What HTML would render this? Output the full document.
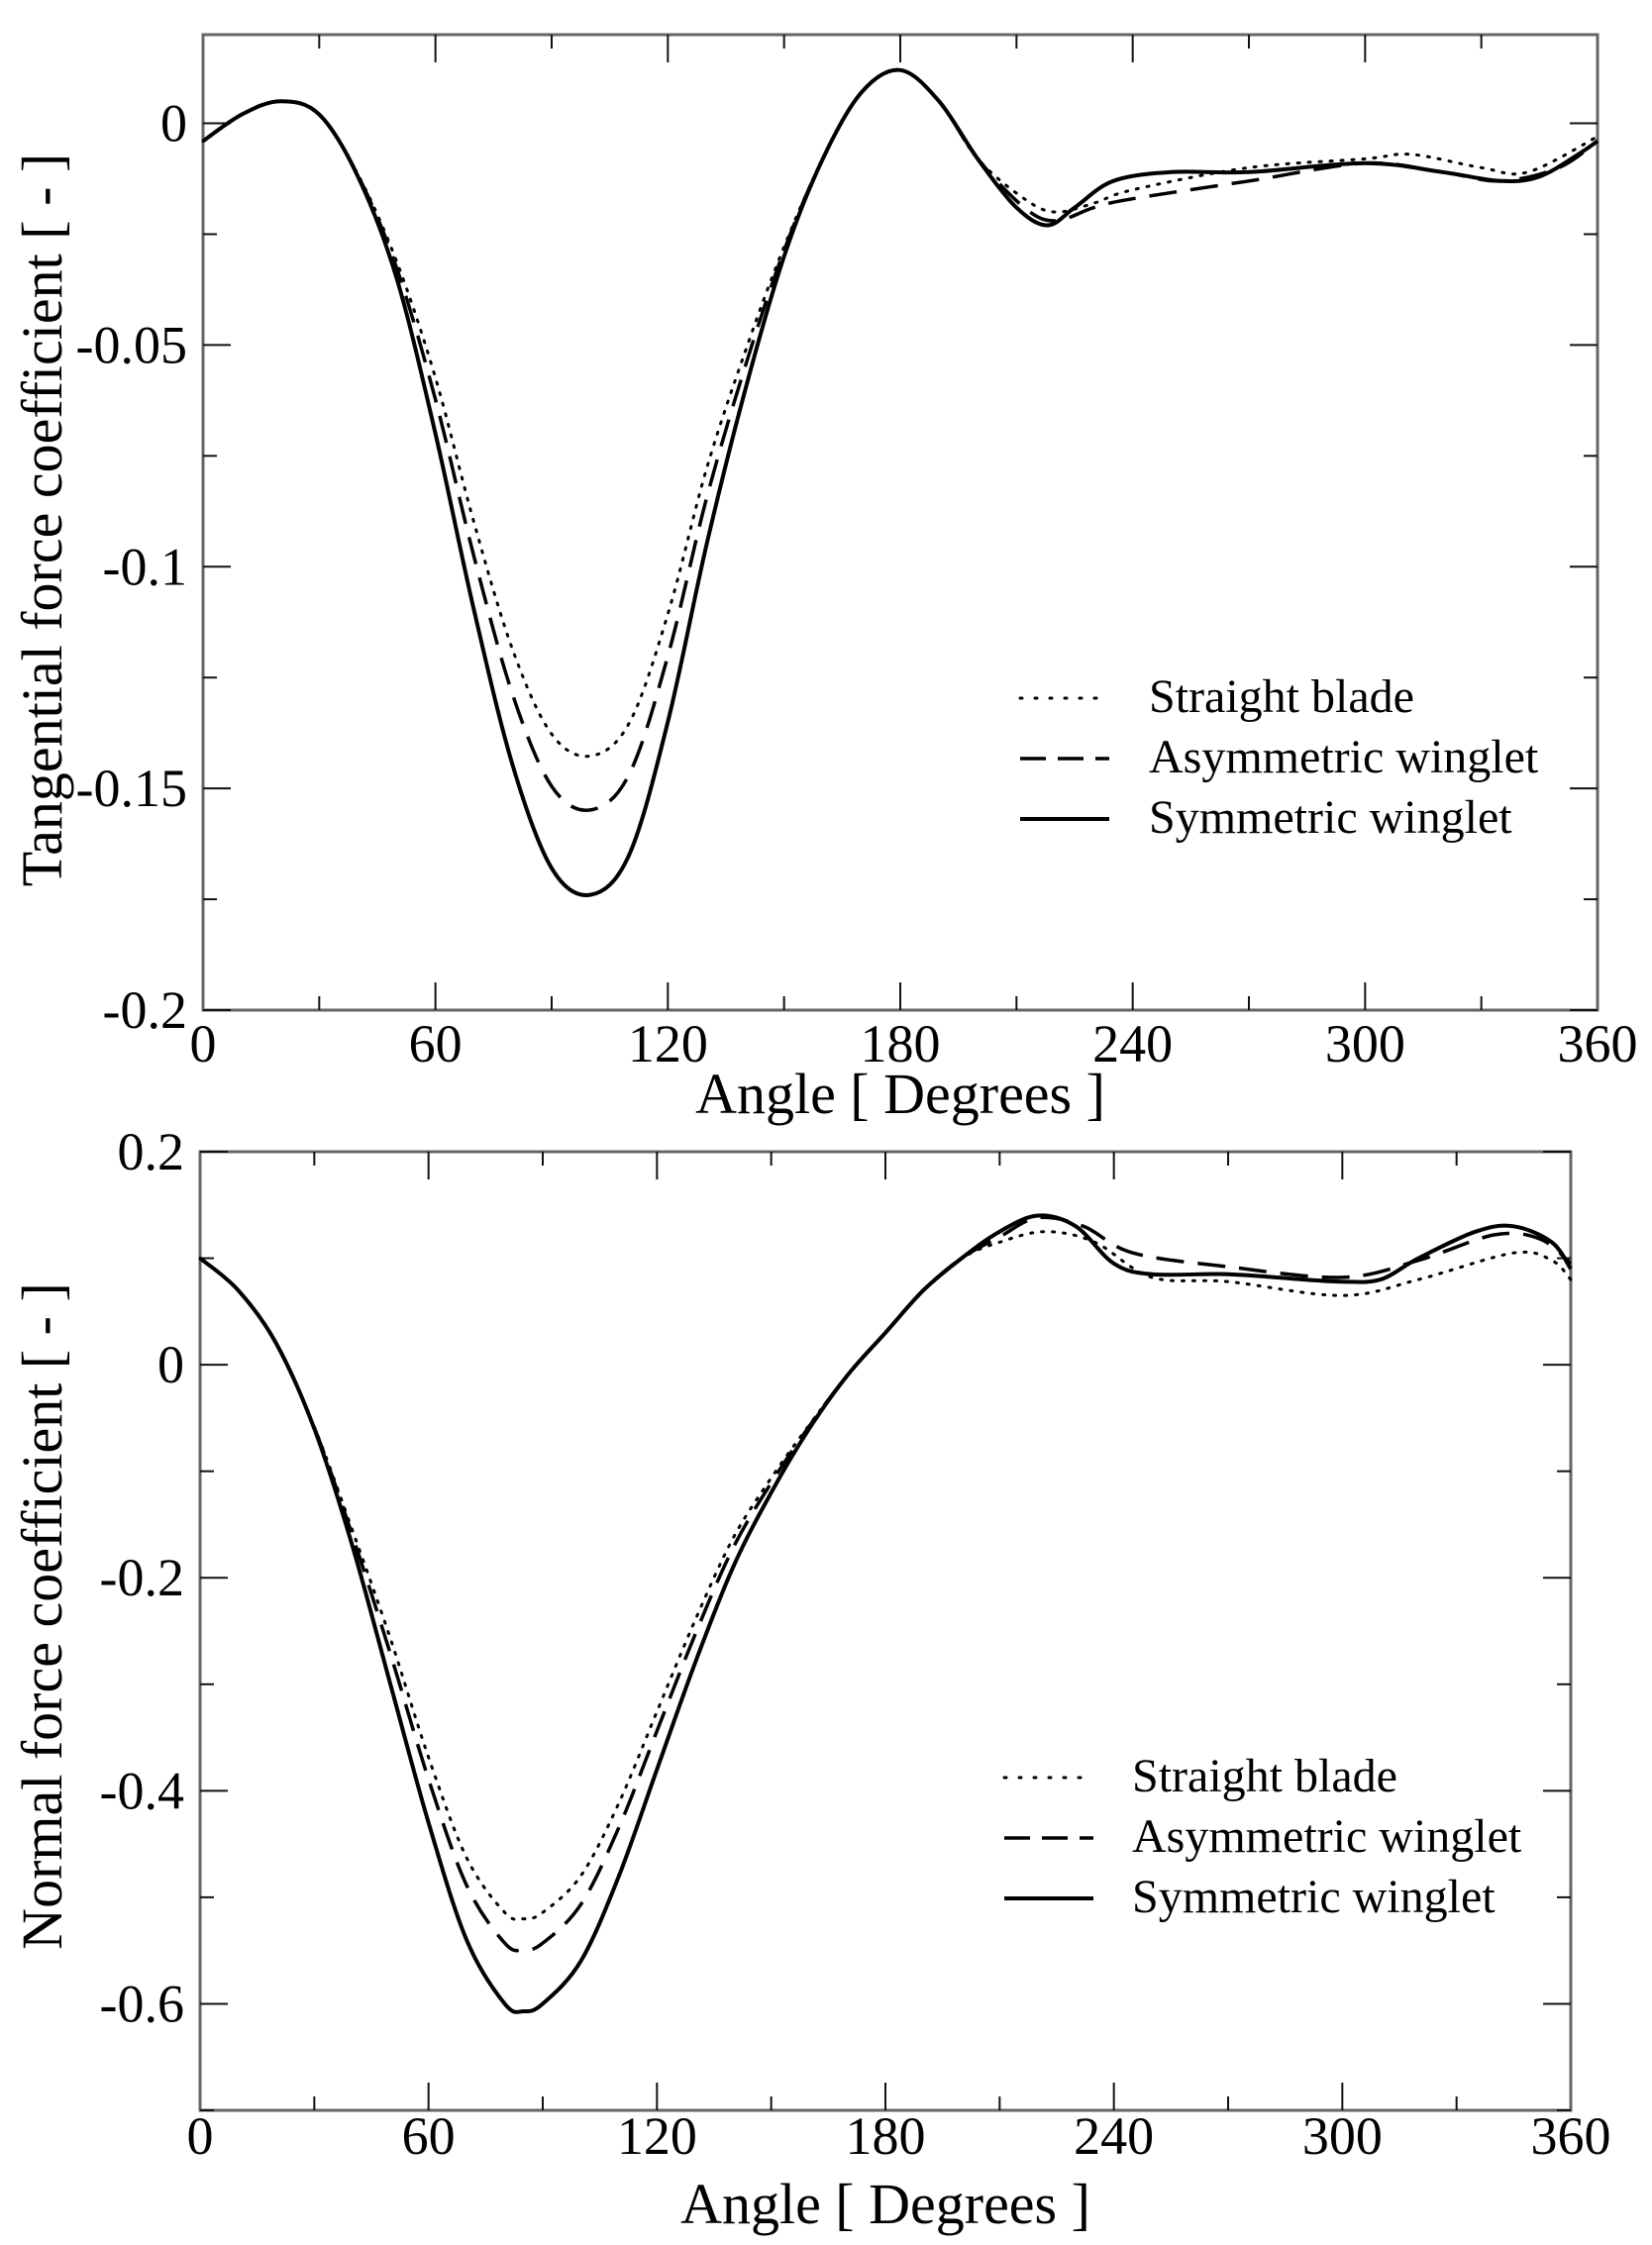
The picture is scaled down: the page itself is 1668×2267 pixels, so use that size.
<!DOCTYPE html>
<html><head><meta charset="utf-8"><style>html,body{margin:0;padding:0;background:#fff}svg{display:block}</style></head>
<body>
<svg id="s" width="1668" height="2267" xmlns="http://www.w3.org/2000/svg" font-family="Liberation Serif, serif"></svg>
<script>
const S=document.getElementById('s');let h='';
function sm(pts){let d='M'+pts[0][0].toFixed(1)+','+pts[0][1].toFixed(1);
for(let i=0;i<pts.length-1;i++){const p0=pts[Math.max(0,i-1)],p1=pts[i],p2=pts[i+1],p3=pts[Math.min(pts.length-1,i+2)];
d+=' C'+(p1[0]+(p2[0]-p0[0])/6).toFixed(1)+','+(p1[1]+(p2[1]-p0[1])/6).toFixed(1)+' '+(p2[0]-(p3[0]-p1[0])/6).toFixed(1)+','+(p2[1]-(p3[1]-p1[1])/6).toFixed(1)+' '+p2[0].toFixed(1)+','+p2[1].toFixed(1);}return d;}
function plot(P){
 const X=a=>P.x0+(P.x1-P.x0)*a/360, Y=v=>P.y0+(P.y1-P.y0)*(v-P.vmax)/(P.vmin-P.vmax);
 h+=`<rect x="${P.x0}" y="${P.y0}" width="${P.x1-P.x0}" height="${P.y1-P.y0}" fill="none" stroke="#666" stroke-width="3"/>`;
 for(let a=30;a<360;a+=30){const L=a%60?14:28,x=X(a);
  h+=`<line x1="${x}" y1="${P.y1}" x2="${x}" y2="${P.y1-L}" stroke="#111" stroke-width="2"/><line x1="${x}" y1="${P.y0}" x2="${x}" y2="${P.y0+L}" stroke="#111" stroke-width="2"/>`;}
 for(let a=0;a<=360;a+=60)h+=`<text x="${X(a)}" y="${P.xl}" font-size="54" text-anchor="middle">${a}</text>`;
 for(let i=0;;i++){const v=P.vmin+i*P.minor;if(v>P.vmax+1e-9)break;const y=Y(v);const maj=Math.abs(Math.round(v/P.major)*P.major-v)<1e-9;const L=maj?28:14;
  h+=`<line x1="${P.x0}" y1="${y}" x2="${P.x0+L}" y2="${y}" stroke="#111" stroke-width="2"/><line x1="${P.x1}" y1="${y}" x2="${P.x1-L}" y2="${y}" stroke="#111" stroke-width="2"/>`;}
 P.labels.forEach(([v,t])=>h+=`<text x="${P.x0-16}" y="${Y(v)+18}" font-size="54" text-anchor="end">${t}</text>`);
 h+=`<text x="${(P.x0+P.x1)/2}" y="${P.tl}" font-size="58" text-anchor="middle">Angle [ Degrees ]</text>`;
 h+=`<text transform="translate(${P.yx},${P.yc}) rotate(-90)" font-size="58" text-anchor="middle">${P.ylab}</text>`;
 const st=[['2 9','3'],['28 14','3.5'],['','4']];
 P.series.forEach((s,i)=>{h+=`<path d="${sm(s.map(p=>[X(p[0]),Y(p[1])]))}" fill="none" stroke="#000" stroke-width="${st[i][1]}" ${st[i][0]?`stroke-dasharray="${st[i][0]}"`:''} stroke-linecap="${i==0?'round':'butt'}"/>`;});
 ['Straight blade','Asymmetric winglet','Symmetric winglet'].forEach((t,i)=>{const y=P.leg[1]+i*P.leg[2];
  h+=`<line x1="${P.leg[0]}" y1="${y-14}" x2="${P.leg[0]+90}" y2="${y-14}" stroke="#000" stroke-width="${st[i][1]}" ${st[i][0]?`stroke-dasharray="${i==0?'2 13':'26 12'}"`:''} stroke-linecap="${i==0?'round':'butt'}"/><text x="${P.leg[3]}" y="${y}" font-size="48">${t}</text>`;});
}
function mk(sym,k,right,lo,hi){return sym.map(([a,v])=>{let f=1;if(a>lo&&a<hi){const t=Math.min(1,(a-lo)/25,(hi-a)/25);f=1-(1-k)*t;}return [a,v*f];}).filter(p=>p[0]<=205).concat(right);}
const tS=[[0,-0.004],[10,0.002],[20,0.005],[30,0.002],[40,-0.012],[50,-0.035],[60,-0.07],[70,-0.11],[80,-0.145],[90,-0.168],[100,-0.174],[110,-0.165],[120,-0.135],[130,-0.095],[140,-0.06],[150,-0.03],[160,-0.008],[170,0.007],[180,0.012],[190,0.005],[200,-0.008],[210,-0.019],[218,-0.023],[225,-0.019],[235,-0.013],[250,-0.011],[270,-0.011],[300,-0.009],[320,-0.011],[335,-0.013],[345,-0.012],[355,-0.007],[360,-0.004]];
const tA=mk(tS,0.89,[[212,-0.019],[220,-0.022],[230,-0.019],[240,-0.017],[270,-0.013],[300,-0.009],[320,-0.011],[335,-0.013],[350,-0.01],[360,-0.004]],35,160);
const tD=mk(tS,0.82,[[212,-0.017],[220,-0.02],[230,-0.018],[240,-0.015],[270,-0.01],[300,-0.008],[312,-0.007],[330,-0.01],[342,-0.011],[360,-0.003]],35,160);
plot({x0:205,x1:1613,y0:35,y1:1020,vmin:-0.2,vmax:0.02,major:0.05,minor:0.025,labels:[[0,'0'],[-0.05,'-0.05'],[-0.1,'-0.1'],[-0.15,'-0.15'],[-0.2,'-0.2']],xl:1072,tl:1124,yx:62,yc:525,ylab:'Tangential force coefficient [ - ]',series:[tD,tA,tS],leg:[1030,719,61,1160]});
const nS=[[0,0.1],[10,0.07],[20,0.02],[30,-0.06],[40,-0.17],[50,-0.3],[60,-0.43],[70,-0.54],[80,-0.60],[85,-0.607],[90,-0.6],[100,-0.56],[110,-0.48],[120,-0.38],[130,-0.28],[140,-0.19],[150,-0.12],[160,-0.06],[170,-0.01],[180,0.03],[190,0.07],[200,0.10],[210,0.125],[220,0.14],[230,0.13],[240,0.095],[250,0.085],[270,0.085],[290,0.08],[300,0.078],[310,0.08],[320,0.1],[335,0.125],[345,0.13],[355,0.115],[360,0.09]];
const nA=mk(nS,0.905,[[210,0.12],[220,0.138],[232,0.13],[245,0.105],[270,0.092],[300,0.082],[320,0.098],[340,0.122],[352,0.118],[360,0.095]],25,170);
const nD=mk(nS,0.857,[[210,0.115],[222,0.125],[235,0.115],[250,0.082],[270,0.078],[300,0.065],[320,0.08],[345,0.105],[355,0.098],[360,0.08]],25,170);
plot({x0:202,x1:1586,y0:1163,y1:2131,vmin:-0.7,vmax:0.2,major:0.2,minor:0.1,labels:[[0.2,'0.2'],[0,'0'],[-0.2,'-0.2'],[-0.4,'-0.4'],[-0.6,'-0.6']],xl:2175,tl:2245,yx:62,yc:1632,ylab:'Normal force coefficient [ - ]',series:[nD,nA,nS],leg:[1014,1809,61,1143]});
S.innerHTML=h;
</script>
</body></html>
